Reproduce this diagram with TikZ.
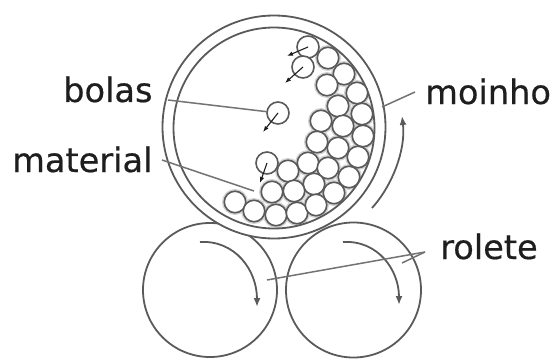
\documentclass[tikz,border=0pt]{standalone}
\usepackage{fontspec}
\setmainfont{DejaVu Sans}
\newfontfamily\labelfont[FakeBold=0.5]{DejaVu Sans}
\usetikzlibrary{arrows.meta}
\definecolor{ink}{HTML}{5A5A5A}
\definecolor{dark}{HTML}{1E1E1E}
\definecolor{packing}{HTML}{D2D2D2}
\tikzset{
  shell/.style={circle,draw=ink,line width=1.8pt,minimum size=#1,inner sep=0pt,outer sep=0pt},
  ballnode/.style={circle,draw=ink,fill=white,line width=1.6pt,minimum size=21.5pt,inner sep=0pt,outer sep=0pt},
  freeball/.style={ballnode,minimum size=22pt},
  leader/.style={draw=ink!85,line width=1.5pt},
  motion/.style={draw=ink,line width=1.8pt,-{Latex[length=9pt,width=7pt]}},
  kick/.style={draw=dark,line width=1.1pt,-{Latex[length=6pt,width=4.5pt]}},
  label/.style={text=dark,font=\labelfont\fontsize{33.6}{36}\selectfont,inner sep=0pt,anchor=base west}
}
\begin{document}
\begin{tikzpicture}[x=1pt,y=-1pt]
\useasboundingbox (0,0) rectangle (552,361);
% rollers
\node[shell=134pt] (rollerL) at (210,290) {};
\node[shell=135pt] (rollerR) at (353.5,290) {};
% mill shell
\node[shell=223pt,fill=white] (millouter) at (274,127) {};
% packing behind the balls
\begin{scope}
\clip (274,128) circle (100);
\foreach \p in {(328,58),(344,74),(327,85),(357,93),(338,106),(362,114),(321,121),(343,126),(363,136),(317,142),(338,148),(358,157),(308,163),(328,168),(349,177),(288,171),(314,184),(334,193),(272,192),(294,191),(235,202),(254,211),(276,215),(297,213),(316,205)}
  \fill[packing] \p circle (13);
\end{scope}
\node[shell=201pt] (millinner) at (274,128) {};
% balls
\foreach \n/\p in {a/{(328,58)},b/{(344,74)},c/{(327,85)},d/{(357,93)},e/{(338,106)},f/{(362,114)},g/{(321,121)},h/{(343,126)},i/{(363,136)},j/{(317,142)},k/{(338,148)},l/{(358,157)},m/{(308,163)},n/{(328,168)},o/{(349,177)},q/{(288,171)},r/{(314,184)},s/{(334,193)},t/{(272,192)},u/{(294,191)},v/{(235,202)},w/{(254,211)},x/{(276,215)},y/{(297,213)},z/{(316,205)}}
  \node[ballnode] (ball\n) at \p {};
\node[freeball] (free1) at (308,47) {};
\node[freeball] (free2) at (303,67) {};
\node[freeball] (free3) at (278,113) {};
\node[freeball] (free4) at (267,163) {};
% small motion arrows
\coordinate (k1) at (287,56);
\coordinate (k2) at (285,83);
\coordinate (k3) at (263,132);
\coordinate (k4) at (260,183);
\draw[kick] (free1.center) -- (k1);
\draw[kick] (free2.center) -- (k2);
\draw[kick] (free3.center) -- (k3);
\draw[kick] (free4.center) -- (k4);
% rotation arrows
\coordinate (m1) at (372,208);
\coordinate (m2) at (402,116);
\draw[motion] (m1) .. controls (392,186) and (406,150) .. (m2);
\coordinate (l1) at (200,242);
\coordinate (l2) at (257,307);
\draw[motion] (l1) .. controls (235,240) and (257,270) .. (l2);
\coordinate (r1) at (343,242);
\coordinate (r2) at (399,305);
\draw[motion] (r1) .. controls (378,240) and (399,270) .. (r2);
% labels
\node[label] (bolas) at (63,102) {bolas};
\node[label] (moinho) at (425,104) {moinho};
\node[label] (material) at (12,172) {material};
\node[label] (rolete) at (440,259) {rolete};
% leaders
\coordinate (t1) at (168,100);
\coordinate (t2) at (162,160);
\coordinate (t3) at (415,92);
\coordinate (t4) at (425,252);
\coordinate (t7) at (254,191);
\coordinate (t8) at (382,107);
\coordinate (t5) at (267,280);
\coordinate (t6) at (402,263);
\draw[leader] (t1) -- (free3);
\draw[leader] (t2) -- (t7);
\draw[leader] (t3) -- (t8);
\draw[leader] (t4) -- (t5);
\draw[leader] (t4) -- (t6);
\end{tikzpicture}
\end{document}
